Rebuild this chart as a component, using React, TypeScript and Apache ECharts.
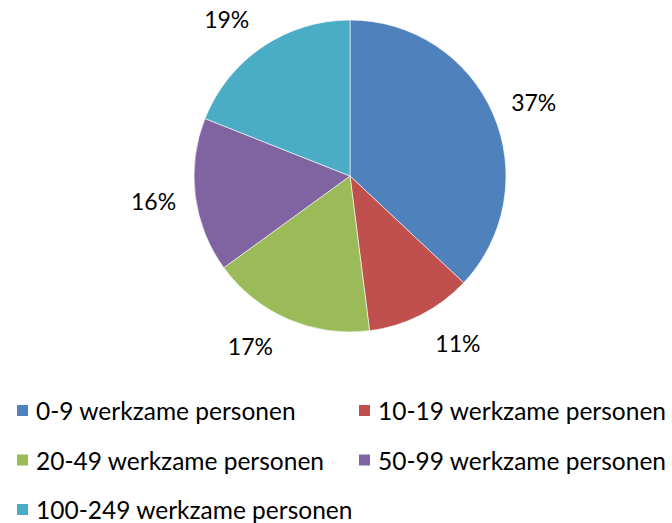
import React, { useEffect, useRef } from "react";
import * as echarts from "echarts";

const categories = [
  "0-9 werkzame personen",
  "10-19 werkzame personen",
  "20-49 werkzame personen",
  "50-99 werkzame personen",
  "100-249 werkzame personen",
];
const values = [37, 11, 17, 16, 19];
const colors = ["#4F81BD", "#C0504D", "#9BBB59", "#8064A2", "#4BACC6"];
const labelNudge = [
  [2, 5],
  [18, -9],
  [-21, -12],
  [0, 0],
  [-12, 7],
];

const FONT = "Lato, 'Open Sans', sans-serif";

export default function App() {
  const ref = useRef<HTMLDivElement>(null);
  useEffect(() => {
    document.body.style.margin = "0";
    const chart = echarts.init(ref.current!, undefined, { renderer: "svg" });
    const data = categories.map((name, i) => ({
      name,
      value: values[i],
      itemStyle: { color: colors[i] },
    }));
    const legendCommon = {
      orient: "vertical" as const,
      padding: 0,
      itemWidth: 13,
      itemHeight: 13,
      itemGap: 24.5,
      icon: "rect",
      height: 124,
      textStyle: { fontFamily: FONT, fontSize: 24.5, color: "#000", lineHeight: 22, padding: [0, 0, 0, 2] },
      selectedMode: false,
    };
    chart.setOption({
      animation: false,
      legend: [
        { ...legendCommon, left: 15, top: 398, data: [categories[0], categories[2], categories[4]] },
        { ...legendCommon, left: 357, top: 398, data: [categories[1], categories[3]] },
      ],
      series: [
        {
          type: "pie",
          center: [350, 176],
          radius: 156,
          startAngle: 90,
          clockwise: true,
          label: { show: false },
          labelLine: { show: false },
          itemStyle: { borderColor: "#ffffff", borderWidth: 0.6 },
          emphasis: { disabled: true },
          data,
        },
        {
          type: "pie",
          center: [350, 176],
          radius: [190, 200],
          startAngle: 90,
          clockwise: true,
          silent: true,
          legendHoverLink: false,
          itemStyle: { color: "transparent" },
          label: {
            show: true,
            position: "inside",
            formatter: "{c}%",
            fontFamily: FONT,
            fontSize: 23,
            color: "#000",
          },
          labelLayout: (p: any) => ({ dx: labelNudge[p.dataIndex][0], dy: labelNudge[p.dataIndex][1] }),
          labelLine: { show: false },
          emphasis: { disabled: true },
          data: categories.map((name, i) => ({ name, value: values[i], itemStyle: { color: "transparent" } })),
        },
      ],
    });
    return () => chart.dispose();
  }, []);
  return <div ref={ref} style={{ width: 672, height: 523, background: "#fff" }} />;
}
